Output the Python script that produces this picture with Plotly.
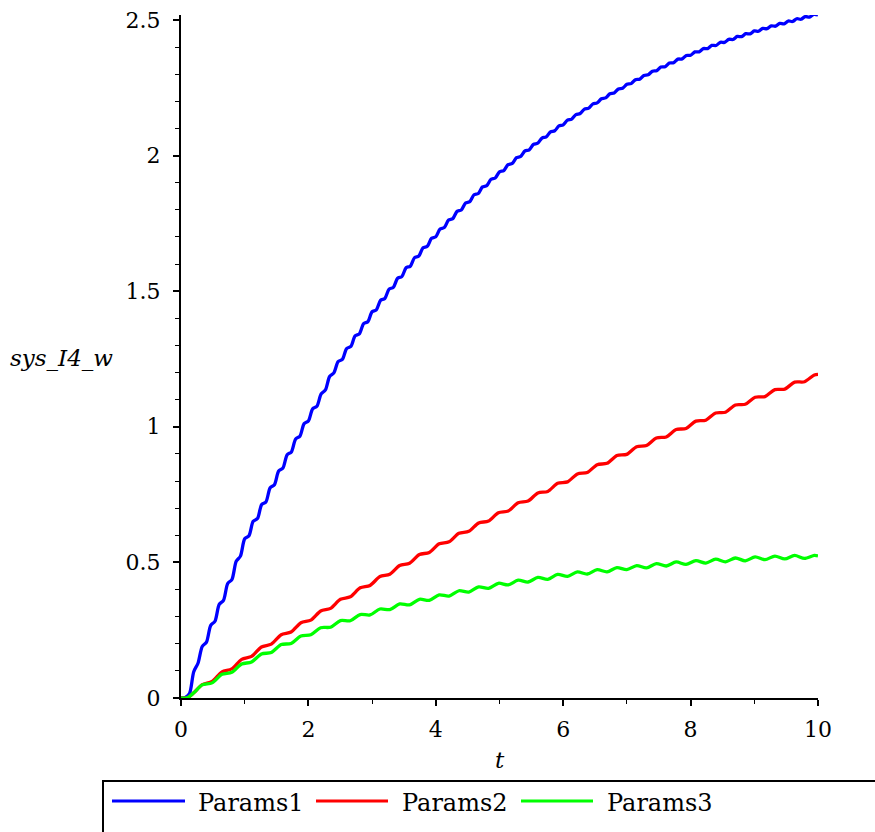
import plotly.graph_objects as go

# ---------------- data ----------------
series_names = ["Params1", "Params2", "Params3"]

t_blue = [0, 0.0667, 0.1333, 0.2, 0.2667, 0.3333, 0.4, 0.4667, 0.5333, 0.6, 0.6667, 0.7333, 0.8, 0.8667, 0.9333,
          1, 1.0667, 1.1333, 1.2, 1.2667, 1.3333, 1.4, 1.4667, 1.5333, 1.6, 1.6667, 1.7333, 1.8, 1.8667, 1.9333,
          2, 2.0667, 2.1333, 2.2, 2.2667, 2.3333, 2.4, 2.4667, 2.5333, 2.6, 2.6667, 2.7333, 2.8, 2.8667, 2.9333,
          3, 3.0667, 3.1333, 3.2, 3.2667, 3.3333, 3.4, 3.4667, 3.5333, 3.6, 3.6667, 3.7333, 3.8, 3.8667, 3.9333,
          4, 4.0667, 4.1333, 4.2, 4.2667, 4.3333, 4.4, 4.4667, 4.5333, 4.6, 4.6667, 4.7333, 4.8, 4.8667, 4.9333,
          5, 5.0667, 5.1333, 5.2, 5.2667, 5.3333, 5.4, 5.4667, 5.5333, 5.6, 5.6667, 5.7333, 5.8, 5.8667, 5.9333,
          6, 6.0667, 6.1333, 6.2, 6.2667, 6.3333, 6.4, 6.4667, 6.5333, 6.6, 6.6667, 6.7333, 6.8, 6.8667, 6.9333,
          7, 7.0667, 7.1333, 7.2, 7.2667, 7.3333, 7.4, 7.4667, 7.5333, 7.6, 7.6667, 7.7333, 7.8, 7.8667, 7.9333,
          8, 8.0667, 8.1333, 8.2, 8.2667, 8.3333, 8.4, 8.4667, 8.5333, 8.6, 8.6667, 8.7333, 8.8, 8.8667, 8.9333,
          9, 9.0667, 9.1333, 9.2, 9.2667, 9.3333, 9.4, 9.4667, 9.5333, 9.6, 9.6667, 9.7333, 9.8, 9.8667, 9.9333,
          10]

params1 = [0, 0.002, 0.016, 0.097, 0.128, 0.190, 0.206, 0.268, 0.283, 0.345, 0.360, 0.422, 0.437, 0.504, 0.523,
           0.587, 0.598, 0.6515, 0.6614, 0.7134, 0.7229, 0.7752, 0.7863, 0.8371, 0.8477, 0.8970, 0.9073, 0.9552, 0.9651, 1.0115,
           1.0211, 1.0660, 1.0753, 1.1209, 1.1358, 1.1853, 1.1987, 1.2400, 1.2480, 1.2881, 1.2959, 1.3348, 1.3422, 1.3801, 1.3872,
           1.4239, 1.4307, 1.4664, 1.4729, 1.5075, 1.5138, 1.5474, 1.5535, 1.5861, 1.5919, 1.6235, 1.6292, 1.6598, 1.6653, 1.6950,
           1.7003, 1.7290, 1.7343, 1.7621, 1.7672, 1.7940, 1.7991, 1.8250, 1.8300, 1.8551, 1.8599, 1.8842, 1.8890, 1.9124, 1.9172,
           1.9397, 1.9444, 1.9662, 1.9708, 1.9919, 1.9965, 2.0168, 2.0212, 2.0410, 2.0453, 2.0643, 2.0686, 2.0870, 2.0912, 2.1090,
           2.1131, 2.1303, 2.1343, 2.1510, 2.1548, 2.1710, 2.1747, 2.1904, 2.1939, 2.2093, 2.2125, 2.2276, 2.2306, 2.2454, 2.2480,
           2.2626, 2.2650, 2.2792, 2.2814, 2.2954, 2.2973, 2.3110, 2.3127, 2.3262, 2.3276, 2.3409, 2.3421, 2.3552, 2.3561, 2.3690,
           2.3697, 2.3820, 2.3821, 2.3942, 2.3941, 2.4059, 2.4057, 2.4173, 2.4169, 2.4283, 2.4277, 2.4390, 2.4382, 2.4493, 2.4483,
           2.4592, 2.4581, 2.4688, 2.4675, 2.4781, 2.4767, 2.4871, 2.4855, 2.4958, 2.4940, 2.5042, 2.5023, 2.5123, 2.5103, 2.5201,
           2.5180]

t_rg = [0, 0.1, 0.2,
        0.333, 0.488, 0.643, 0.798, 0.953, 1.108, 1.263, 1.418, 1.573, 1.728, 1.883, 2.038, 2.193, 2.348,
        2.503, 2.658, 2.813, 2.968, 3.123, 3.278, 3.433, 3.588, 3.743, 3.898, 4.053, 4.208, 4.363, 4.518,
        4.673, 4.828, 4.983, 5.138, 5.293, 5.448, 5.603, 5.758, 5.913, 6.068, 6.223, 6.378, 6.533, 6.688,
        6.843, 6.998, 7.153, 7.308, 7.463, 7.618, 7.773, 7.928, 8.083, 8.238, 8.393, 8.548, 8.703, 8.858,
        9.013, 9.168, 9.323, 9.478, 9.633, 9.788, 9.943, 10]

params2 = [0, 0.0005, 0.019,
           0.0492, 0.0608, 0.0961, 0.1075, 0.1425, 0.1535, 0.1881, 0.1987, 0.2331, 0.2433, 0.2774, 0.2872, 0.3209, 0.3305,
           0.3639, 0.3731, 0.4062, 0.4150, 0.4477, 0.4563, 0.4886, 0.4968, 0.5288, 0.5366, 0.5683, 0.5759, 0.6072, 0.6144,
           0.6454, 0.6522, 0.6830, 0.6894, 0.7197, 0.7259, 0.7559, 0.7617, 0.7914, 0.7968, 0.8262, 0.8314, 0.8603, 0.8651,
           0.8938, 0.8982, 0.9265, 0.9307, 0.9586, 0.9624, 0.9901, 0.9935, 1.0208, 1.0240, 1.0509, 1.0537, 1.0803, 1.0827,
           1.1089, 1.1111, 1.1370, 1.1388, 1.1644, 1.1658, 1.1910, 1.1930]

params3 = [0, 0.0005, 0.019,
           0.0483, 0.0557, 0.0873, 0.0947, 0.1253, 0.1327, 0.1622, 0.1678, 0.1969, 0.2011, 0.2289, 0.2331, 0.2590, 0.2610,
           0.2852, 0.2848, 0.3077, 0.3063, 0.3282, 0.3258, 0.3467, 0.3433, 0.3639, 0.3601, 0.3801, 0.3759, 0.3954, 0.3906,
           0.4096, 0.4044, 0.4230, 0.4170, 0.4344, 0.4276, 0.4444, 0.4376, 0.4555, 0.4485, 0.4649, 0.4571, 0.4729, 0.4651,
           0.4809, 0.4731, 0.4882, 0.4798, 0.4954, 0.4866, 0.5016, 0.4924, 0.5066, 0.4974, 0.5118, 0.5022, 0.5161, 0.5059,
           0.5201, 0.5099, 0.5234, 0.5126, 0.5255, 0.5145, 0.5255, 0.5235]

x_ticks = [0, 2, 4, 6, 8, 10]
y_ticks = [0, 0.5, 1, 1.5, 2, 2.5]
y_tick_labels = ["0", "0.5", "1", "1.5", "2", "2.5"]

colors = ["#0000ff", "#ff0000", "#00ff00"]

# ---------------- figure ----------------
W, H = 875, 832
ML, MR, MT, MB = 181, 57, 15, 134
PW, PH = W - ML - MR, H - MT - MB
FONT = "DejaVu Serif"


def px_x(px):
    return (px - ML) / PW


def px_y(py):
    return (H - MB - py) / PH


fig = go.Figure()
for name, xs, ys, c in [(series_names[0], t_blue, params1, colors[0]),
                        (series_names[1], t_rg, params2, colors[1]),
                        (series_names[2], t_rg, params3, colors[2])]:
    fig.add_trace(go.Scatter(x=xs, y=ys, mode="lines", name=name,
                             line=dict(color=c, width=3.3, shape="spline", smoothing=0.8),
                             showlegend=False))

axis_common = dict(showgrid=False, zeroline=False, showline=True, linecolor="black", linewidth=2,
                   ticks="outside", tickcolor="black", tickwidth=1.5, ticklen=6, layer="below traces",
                   tickfont=dict(family=FONT, size=22, color="black"))

fig.update_xaxes(range=[0, 10], tickvals=x_ticks, ticktext=[str(v) for v in x_ticks],
                 minor=dict(dtick=1, ticks="outside", ticklen=4, tickcolor="black", tickwidth=1),
                 ticklabelstandoff=5, **axis_common)
fig.update_yaxes(range=[0, 2.518], tickvals=y_ticks, ticktext=y_tick_labels,
                 minor=dict(dtick=0.1, ticks="outside", ticklen=4, tickcolor="black", tickwidth=1),
                 ticklabelstandoff=8, **axis_common)

annotations = [
    dict(text="<i>sys_I4_w</i>", x=px_x(8), y=px_y(358), xref="paper", yref="paper",
         xanchor="left", yanchor="middle", showarrow=False, font=dict(family=FONT, size=23, color="black")),
    dict(text="<i>t</i>", x=0.5, y=px_y(760), xref="paper", yref="paper",
         xanchor="center", yanchor="middle", showarrow=False, font=dict(family=FONT, size=23, color="black")),
]
shapes = [
    dict(type="rect", xref="paper", yref="paper", x0=px_x(103), x1=px_x(890), y0=px_y(781), y1=px_y(850),
         line=dict(color="black", width=2), fillcolor="white", layer="below"),
]
legend_lines = [(112, 185, 196), (316, 388, 400), (521, 593, 605)]
for (x0, x1, tx), name, c in zip(legend_lines, series_names, colors):
    shapes.append(dict(type="line", xref="paper", yref="paper", x0=px_x(x0), x1=px_x(x1),
                       y0=px_y(801), y1=px_y(801), line=dict(color=c, width=3)))
    annotations.append(dict(text=name, x=px_x(tx), y=px_y(803), xref="paper", yref="paper",
                            xanchor="left", yanchor="middle", showarrow=False,
                            font=dict(family=FONT, size=24, color="black")))

fig.update_layout(width=W, height=H, margin=dict(l=ML, r=MR, t=MT, b=MB, autoexpand=False),
                  paper_bgcolor="white", plot_bgcolor="white", showlegend=False,
                  font=dict(family=FONT, color="black"),
                  annotations=annotations, shapes=shapes)

fig.write_html("out.html")
